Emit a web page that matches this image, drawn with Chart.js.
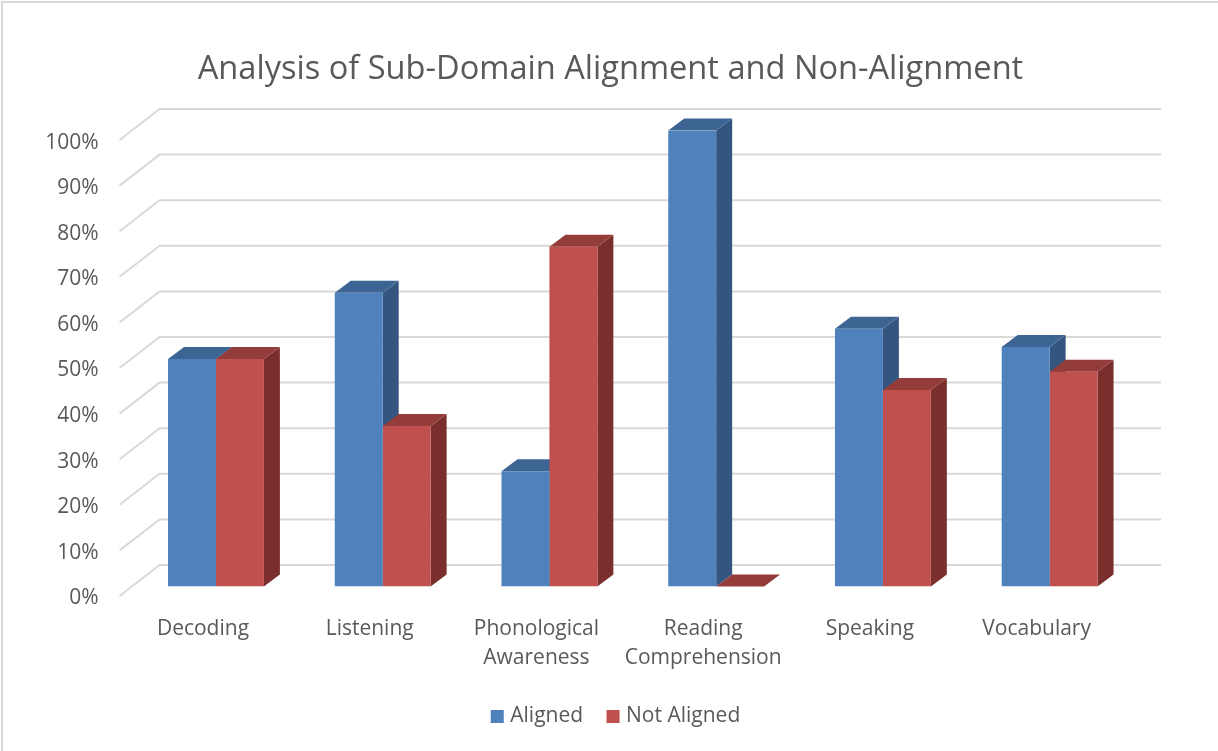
<!DOCTYPE html>
<html>
<head>
<meta charset="utf-8">
<script src="https://cdn.jsdelivr.net/npm/chart.js@4"></script>
<style>
  body { margin: 0; background: #fff; }
  #frame { position: absolute; left: 1px; top: 1px; right: 0; bottom: 0; border-left: 2px solid #d9d9d9; border-top: 2px solid #d9d9d9; pointer-events: none; }
  canvas { display: block; }
</style>
</head>
<body>
<canvas id="chart" width="1218" height="751"></canvas>
<div id="frame"></div>
<script>
const categories = ["Decoding", "Listening", ["Phonological", "Awareness"], ["Reading", "Comprehension"], "Speaking", "Vocabulary"];
const aligned = [49.9, 64.4, 25.3, 100, 56.5, 52.5];
const notAligned = [49.9, 35.2, 74.5, 0, 43.1, 47.1];
const yTicks = [0, 10, 20, 30, 40, 50, 60, 70, 80, 90, 100];

const textColor = "#595959";
const fontName = "'Open Sans', sans-serif";
const depthX = 16;
const depthY = 12;

function fillFace(ctx, color, pts) {
  ctx.fillStyle = color;
  ctx.beginPath();
  ctx.moveTo(pts[0][0], pts[0][1]);
  pts.slice(1).forEach(p => ctx.lineTo(p[0], p[1]));
  ctx.closePath();
  ctx.fill();
}

// floor-to-wall gridlines and the top / side faces of the bars, fronts come from Chart.js
const bars3d = {
  id: "bars3d",
  afterLayout(chart) {
    // title and legend are centred on the picture, not on the shifted plot
    chart.titleBlock.left += 44;
    chart.titleBlock.right += 44;
    chart.legend.left += 51;
    chart.legend.right += 51;
  },
  beforeDatasetsDraw(chart) {
    const ctx = chart.ctx;
    const y = chart.scales.y;
    const area = chart.chartArea;

    ctx.save();
    ctx.strokeStyle = "#d9d9d9";
    ctx.lineWidth = 2;
    yTicks.forEach(v => {
      const py = y.getPixelForValue(v);
      ctx.beginPath();
      ctx.moveTo(area.left - 13, py + 9.5);
      ctx.lineTo(area.left + 27, py - 21.5);
      ctx.lineTo(area.right + 28, py - 21.5);
      ctx.stroke();
    });

    chart.data.datasets.forEach((ds, i) => {
      chart.getDatasetMeta(i).data.forEach(bar => {
        const left = bar.x - bar.width / 2;
        const right = bar.x + bar.width / 2;
        fillFace(ctx, ds.sideColor, [[right, bar.y], [right + depthX, bar.y - depthY], [right + depthX, bar.base - depthY], [right, bar.base]]);
        fillFace(ctx, ds.topColor, [[left, bar.y], [left + depthX, bar.y - depthY], [right + depthX, bar.y - depthY], [right, bar.y]]);
      });
    });
    ctx.restore();
  }
};

new Chart(document.getElementById("chart"), {
  type: "bar",
  plugins: [bars3d],
  data: {
    labels: categories,
    datasets: [
      { label: "Aligned", data: aligned, backgroundColor: "#4f81bd", topColor: "#3d6594", sideColor: "#335580" },
      { label: "Not Aligned", data: notAligned, backgroundColor: "#c0504d", topColor: "#933c3a", sideColor: "#7a2f2d" }
    ]
  },
  options: {
    responsive: false,
    animation: false,
    categoryPercentage: 0.575,
    barPercentage: 1,
    layout: { padding: { right: 85, bottom: 14 } },
    plugins: {
      title: {
        display: true,
        text: "Analysis of Sub-Domain Alignment and Non-Alignment",
        color: textColor,
        font: { family: fontName, size: 32.6, weight: "normal", lineHeight: 1.2 },
        padding: { top: 50, bottom: 41.4 }
      },
      legend: {
        position: "bottom",
        labels: { color: textColor, font: { family: fontName, size: 21 }, usePointStyle: true, pointStyle: "rect", boxWidth: 5, boxHeight: 13, padding: 27.5 }
      },
      tooltip: { enabled: false }
    },
    scales: {
      x: {
        grid: { display: false },
        border: { display: false },
        afterFit(scale) { scale.height = 92; },
        ticks: { color: textColor, font: { family: fontName, size: 21, lineHeight: 1.38 }, padding: 20, labelOffset: -13, maxRotation: 0, autoSkip: false }
      },
      y: {
        min: 0,
        max: 100,
        grid: { display: false },
        border: { display: false },
        afterFit(scale) { scale.width = 132.6; },
        afterBuildTicks(scale) { scale.ticks = yTicks.map(v => ({ value: v })); },
        ticks: { color: textColor, font: { family: fontName, size: 21 }, padding: 26, labelOffset: 12, callback: v => v + "%" }
      }
    }
  }
});
</script>
</body>
</html>
